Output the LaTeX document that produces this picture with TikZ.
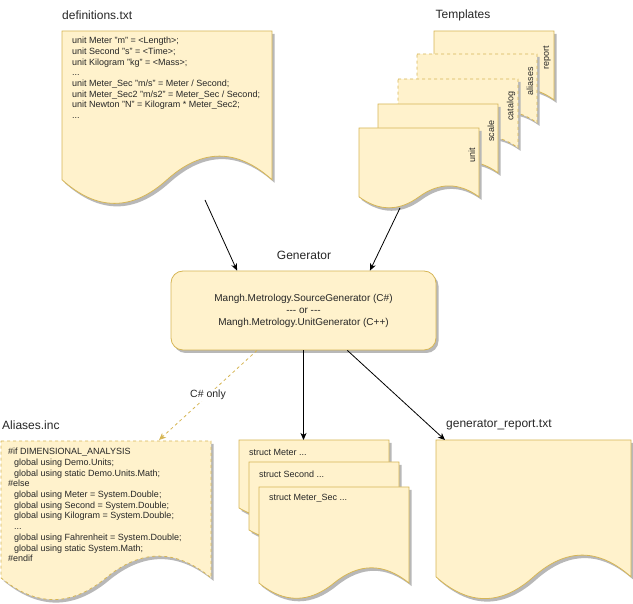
\documentclass[tikz,border=0pt]{standalone}
\usepackage{fontspec}
\setmainfont{Liberation Sans}
\usetikzlibrary{arrows.meta,calc}
\definecolor{docfill}{HTML}{FFF2CC}
\definecolor{docline}{HTML}{D6B656}
\tikzset{>={Stealth[length=7pt,width=6pt,inset=2pt]}}
\tikzset{
  docstyle/.style={fill=docfill,draw=docline,line width=0.8pt,
    preaction={fill=black!28,transform canvas={xshift=2.5pt,yshift=-3pt}}},
  dashline/.style={dash pattern=on 3pt off 3pt},
  doctext/.style={anchor=north west,inner sep=0pt,align=left,text=black!85,
    font=\fontsize{9}{10.7}\selectfont},
  title/.style={inner sep=0pt,text=black!85,font=\fontsize{12}{13}\selectfont},
  tplname/.style={rotate=90,inner sep=0pt,text=black!85,font=\fontsize{9}{10}\selectfont},
  genbox/.style={draw=docline,fill=docfill,line width=0.8pt,rounded corners=12pt,
    minimum width=265pt,minimum height=79pt,align=center,text=black!85,
    font=\fontsize{10}{12}\selectfont,
    preaction={fill=black!28,transform canvas={xshift=2.5pt,yshift=-3pt}}}
}
% document shape: x, y (top left), width, height
\newcommand{\docshape}[5][]{%
  \path[docstyle,#1] (#2,#3) -- ({#2+#4},#3) -- ({#2+#4},{#3+0.85*#5})
    .. controls ({#2+0.8333*#4},{#3+0.67*#5}) and ({#2+0.6667*#4},{#3+0.67*#5}) .. ({#2+0.5*#4},{#3+0.85*#5})
    .. controls ({#2+0.3333*#4},{#3+1.03*#5}) and ({#2+0.1667*#4},{#3+1.03*#5}) .. (#2,{#3+0.85*#5}) -- cycle;}

\begin{document}
\begin{tikzpicture}[x=1pt,y=-1pt]
  \useasboundingbox (0,0) rectangle (633,604);
  % Inputs
  \node[title,anchor=west] (defs-title) at (62,15) {definitions.txt};
  \docshape{62}{31}{210}{175}
  \node[doctext] (defs-text) at (72,37) {unit Meter "m" = <Length>;\\unit Second "s" = <Time>;\\
    unit Kilogram "kg" = <Mass>;\\...\\unit Meter\_Sec "m/s" = Meter / Second;\\
    unit Meter\_Sec2 "m/s2" = Meter\_Sec / Second;\\unit Newton "N" = Kilogram * Meter\_Sec2;\\...};
  \node[title] (tpl-title) at (463,15) {Templates};
  \docshape{434}{31}{120}{81}
  \node[tplname] (tpl-report) at (547,58) {report};
  \docshape[dashline]{417}{54}{120}{81}
  \node[tplname] (tpl-aliases) at (530,81) {aliases};
  \docshape[dashline]{398}{79}{120}{81}
  \node[tplname] (tpl-catalog) at (511,106) {catalog};
  \docshape{378}{104}{120}{81}
  \node[tplname] (tpl-scale) at (491,131) {scale};
  \docshape{359}{128}{120}{81}
  \node[tplname] (tpl-unit) at (472,155) {unit};
  % Generator
  \node[title] (gen-title) at (304,255) {Generator};
  \node[genbox] (gen) at (303.5,310.5) {Mangh.Metrology.SourceGenerator (C\#)\\-{}-{}- or -{}-{}-\\
    Mangh.Metrology.UnitGenerator (C++)};
  % Outputs
  \node[title,anchor=west] (aliases-title) at (2,425) {Aliases.inc};
  \docshape[dashline]{1}{441}{210}{161}
  \node[doctext] (aliases-text) at (8,448) {\#if DIMENSIONAL\_ANALYSIS\\
    \hspace*{6pt}global using Demo.Units;\\\hspace*{6pt}global using static Demo.Units.Math;\\\#else\\
    \hspace*{6pt}global using Meter = System.Double;\\\hspace*{6pt}global using Second = System.Double;\\
    \hspace*{6pt}global using Kilogram = System.Double;\\\hspace*{6pt}...\\
    \hspace*{6pt}global using Fahrenheit = System.Double;\\\hspace*{6pt}global using static System.Math;\\\#endif};
  \docshape{239}{440}{150}{80}
  \node[doctext,anchor=west] (struct-meter) at (249,452) {struct Meter ...};
  \docshape{249}{462}{150}{80}
  \node[doctext,anchor=west] (struct-second) at (259,474) {struct Second ...};
  \docshape{259}{487}{150}{113}
  \node[doctext,anchor=west] (struct-metersec) at (269,498) {struct Meter\_Sec ...};
  \node[title,anchor=west] (report-title) at (446,425) {generator\_report.txt};
  \docshape{436}{440}{195}{161}
  % Connectors
  \coordinate (defs-out) at (205,200);
  \coordinate (tpl-out) at (400,208);
  \coordinate (aliases-in) at (159,440);
  \coordinate (structs-in) at (303.5,440);
  \coordinate (report-in) at (445,440);
  \draw[->,line width=0.8pt] (defs-out) -- ($(gen.north)!0.5!(gen.north west)$);
  \draw[->,line width=0.8pt] (tpl-out) -- ($(gen.north)!0.5!(gen.north east)$);
  \draw[->,draw=docline,line width=0.8pt,dashline] ($(gen.south)!0.35!(gen.south west)$)
    -- node[fill=white,inner sep=1pt,text=black!85,font=\fontsize{10.5}{11}\selectfont] (csharp-only) {C\# only} (aliases-in);
  \draw[->,line width=0.8pt] (gen.south) -- (structs-in);
  \draw[->,line width=0.8pt] ($(gen.south)!0.33!(gen.south east)$) -- (report-in);
\end{tikzpicture}
\end{document}
